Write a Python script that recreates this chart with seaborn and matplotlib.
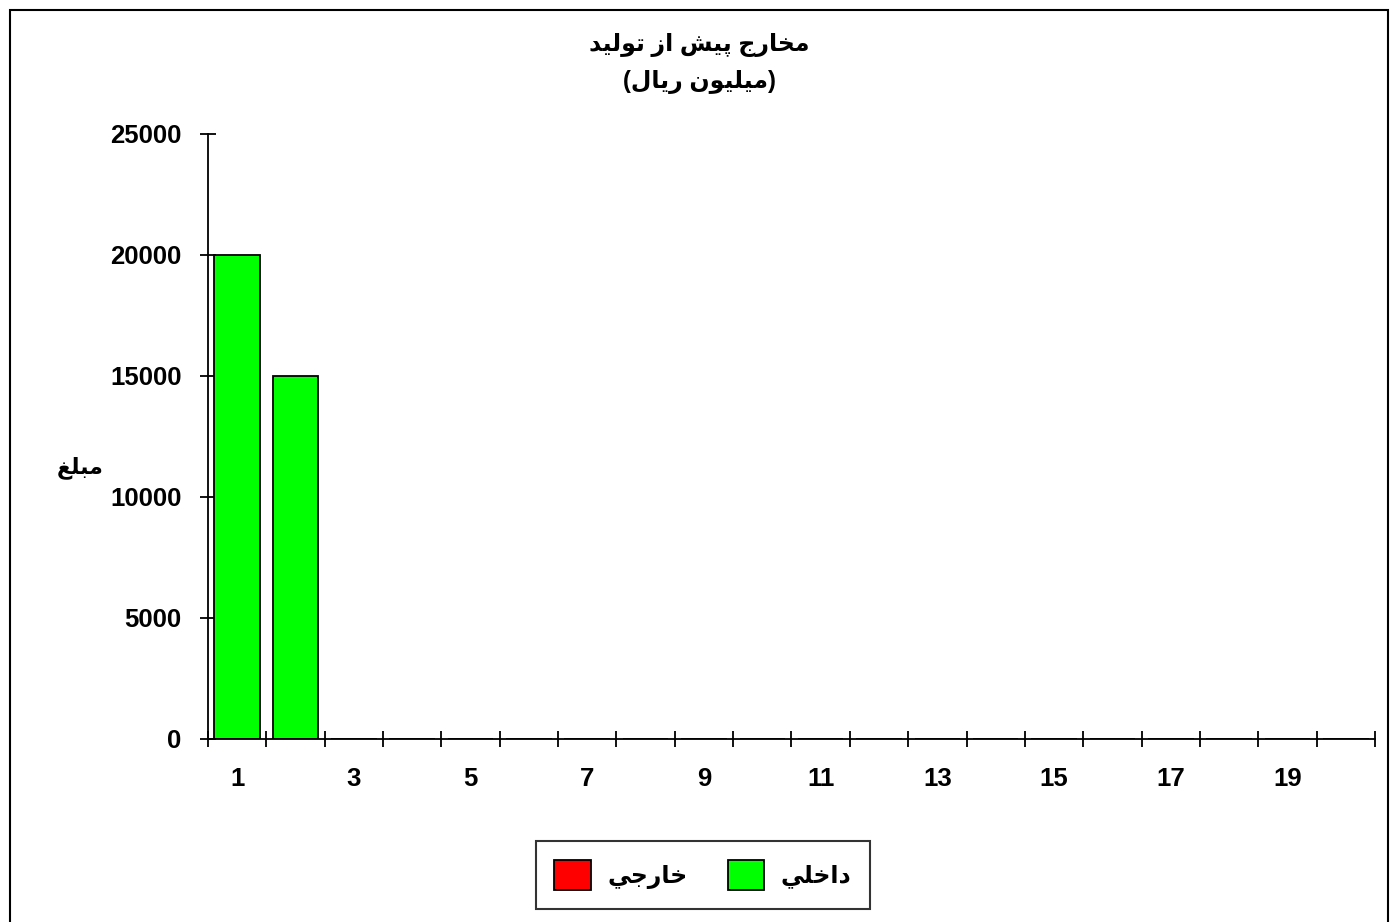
import numpy as np
import pandas as pd
import matplotlib
matplotlib.use('Agg')
import matplotlib.pyplot as plt
from matplotlib.patches import Rectangle, Patch
import seaborn as sns

# ---------------- data ----------------
categories = list(range(1, 21))
domestic = [20000, 15000] + [0] * 18   # داخلي
foreign = [0] * 20                     # خارجي
tick_labels = [str(c) if c % 2 == 1 else '' for c in categories]

title_l1 = 'مخارج پیش از تولید'
title_l2 = '(میلیون ریال)'
ylabel = 'مبلغ'
lbl_foreign = 'خارجي'
lbl_domestic = 'داخلي'

# ---------------- tiny arabic shaper (no arabic_reshaper available) ----------------
# letter: (isolated, final, initial, medial) ; right-joining letters have only 2 forms
FORMS = {
    'ا': (0xFE8D, 0xFE8E), 'د': (0xFEA9, 0xFEAA), 'ر': (0xFEAD, 0xFEAE),
    'ز': (0xFEAF, 0xFEB0), 'و': (0xFEED, 0xFEEE),
    'ب': (0xFE8F, 0xFE90, 0xFE91, 0xFE92), 'پ': (0xFB56, 0xFB57, 0xFB58, 0xFB59),
    'ت': (0xFE95, 0xFE96, 0xFE97, 0xFE98), 'ج': (0xFE9D, 0xFE9E, 0xFE9F, 0xFEA0),
    'خ': (0xFEA5, 0xFEA6, 0xFEA7, 0xFEA8), 'ش': (0xFEB5, 0xFEB6, 0xFEB7, 0xFEB8),
    'غ': (0xFECD, 0xFECE, 0xFECF, 0xFED0), 'ل': (0xFEDD, 0xFEDE, 0xFEDF, 0xFEE0),
    'م': (0xFEE1, 0xFEE2, 0xFEE3, 0xFEE4), 'ن': (0xFEE5, 0xFEE6, 0xFEE7, 0xFEE8),
    'ي': (0xFEF1, 0xFEF2, 0xFEF3, 0xFEF4), 'ی': (0xFEF1, 0xFEF2, 0xFEF3, 0xFEF4),
}
MIRROR = {'(': ')', ')': '('}


def shape(text):
    out = []
    n = len(text)
    for i, ch in enumerate(text):
        if ch not in FORMS:
            out.append(MIRROR.get(ch, ch))
            continue
        prev = text[i - 1] if i > 0 else ''
        nxt = text[i + 1] if i < n - 1 else ''
        join_prev = prev in FORMS and len(FORMS[prev]) == 4
        join_next = len(FORMS[ch]) == 4 and nxt in FORMS
        f = FORMS[ch]
        if join_prev and join_next:
            cp = f[3]
        elif join_prev:
            cp = f[1]
        elif join_next:
            cp = f[2]
        else:
            cp = f[0]
        out.append(chr(cp))
    return ''.join(reversed(out))


# ---------------- plot ----------------
sns.set_style('white')
plt.rcParams['font.family'] = ['Liberation Sans', 'DejaVu Sans']
plt.rcParams['font.weight'] = 'bold'
plt.rcParams['text.color'] = 'black'
plt.rcParams['xtick.color'] = 'black'
plt.rcParams['ytick.color'] = 'black'

fig = plt.figure(figsize=(13.91, 9.22), dpi=100)
ax = fig.add_axes([0.1495, 0.1985, 0.8390, 0.6562])

df = pd.DataFrame({'cat': categories, 'domestic': domestic, 'foreign': foreign})
sns.barplot(data=df, x='cat', y='domestic', order=categories, color='#00FF00',
            saturation=1, width=0.78, edgecolor='black', linewidth=1.3, ax=ax)
sns.barplot(data=df, x='cat', y='foreign', order=categories, color='#FF0000',
            saturation=1, width=0.78, edgecolor='black', linewidth=0, ax=ax)

ax.set_xlim(-0.5, 19.5)
ax.set_ylim(0, 25000)
ax.set_yticks(np.arange(0, 25001, 5000))
ax.set_yticklabels([str(v) for v in range(0, 25001, 5000)], fontsize=18.5, fontweight='bold')
ax.set_xticks(np.arange(20))
ax.set_xticklabels(tick_labels, fontsize=18.5, fontweight='bold')
ax.set_xticks(np.arange(-0.5, 20, 1), minor=True)
ax.tick_params(axis='x', which='major', length=0, pad=20, bottom=True)
ax.tick_params(axis='x', which='minor', direction='inout', length=12, width=1.3,
               color='black', bottom=True)
ax.tick_params(axis='y', direction='inout', length=12, width=1.3, color='black', pad=13, left=True)
ax.set_xlabel('')
ax.set_ylabel('')

for s in ['top', 'right']:
    ax.spines[s].set_visible(False)
for s in ['left', 'bottom']:
    ax.spines[s].set_color('black')
    ax.spines[s].set_linewidth(1.3)

fig.text(0.503, 0.951, shape(title_l1), ha='center', va='center', fontsize=17, fontweight='bold')
fig.text(0.503, 0.911, shape(title_l2), ha='center', va='center', fontsize=17, fontweight='bold')
fig.text(0.058, 0.493, shape(ylabel), ha='center', va='center', fontsize=16, fontweight='bold')

handles = [Patch(facecolor='#FF0000', edgecolor='black', linewidth=1.3),
           Patch(facecolor='#00FF00', edgecolor='black', linewidth=1.3)]
leg = fig.legend(handles, [shape(lbl_foreign), shape(lbl_domestic)], loc='center',
                 bbox_to_anchor=(703 / 1391, 1 - 875 / 922), ncol=2, fontsize=17,
                 frameon=True, fancybox=False, handlelength=1.55, handleheight=1.6,
                 handletextpad=0.7, columnspacing=1.7, borderpad=0.8, borderaxespad=0)
leg.get_frame().set_edgecolor('black')
leg.get_frame().set_linewidth(1.5)
for t in leg.get_texts():
    t.set_fontweight('bold')

# outer chart-area border
fig.patches.append(Rectangle((10 / 1391, -0.01), (1388 - 10) / 1391, 1 - 10 / 922 + 0.01,
                             transform=fig.transFigure, fill=False, edgecolor='black',
                             linewidth=1.5))

fig.savefig('out.png', dpi=100)
